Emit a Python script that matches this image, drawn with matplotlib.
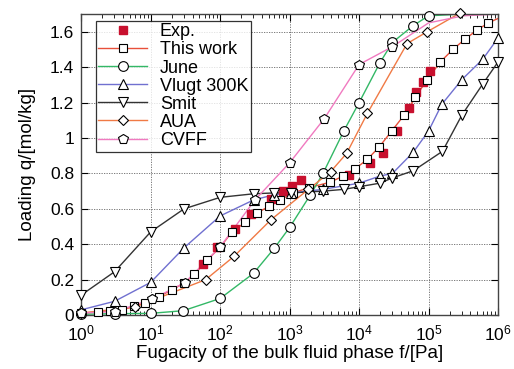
import numpy as np
import matplotlib
matplotlib.use("Agg")
import matplotlib.pyplot as plt
from matplotlib.ticker import FuncFormatter, LogLocator, NullFormatter

plt.rcParams['font.family'] = ['Liberation Sans', 'DejaVu Sans']

# data: log10(f / Pa) and loading q / (mol/kg)
exp_logf = [1.76, 1.96, 2.21, 2.45, 2.73, 2.91, 3.03, 3.16, 3.85, 4.15, 4.34, 4.55, 4.72, 4.82, 4.92, 5.02]
exp_q = [0.29, 0.387, 0.488, 0.57, 0.655, 0.70, 0.727, 0.765, 0.79, 0.857, 0.918, 1.042, 1.17, 1.26, 1.316, 1.38]

work_logf = [0, 0.24, 0.41, 0.59, 0.76, 0.92, 1.12, 1.3, 1.48, 1.63, 1.81, 2.0, 2.17, 2.36, 2.53, 2.71, 2.86,
             3.05, 3.28, 3.58, 3.77, 3.94, 4.12, 4.29, 4.47, 4.65, 4.81, 4.98, 5.17, 5.35, 5.53, 5.7, 5.86]
work_q = [0.01, 0.018, 0.024, 0.03, 0.05, 0.07, 0.105, 0.142, 0.18, 0.23, 0.31, 0.383, 0.47, 0.523, 0.576, 0.616, 0.65,
          0.69, 0.72, 0.75, 0.785, 0.825, 0.88, 0.95, 1.04, 1.13, 1.23, 1.33, 1.43, 1.50, 1.56, 1.61, 1.65]

june_logf = [0, 0.48, 1.0, 1.47, 2.0, 2.48, 2.78, 3.0, 3.3, 3.48, 3.78, 4.0, 4.3, 4.48, 4.78, 5.0]
june_q = [0.005, 0.008, 0.01, 0.025, 0.094, 0.236, 0.378, 0.495, 0.68, 0.80, 1.04, 1.20, 1.425, 1.54, 1.635, 1.69]

vlugt_logf = [0, 0.48, 1.0, 1.48, 2.0, 2.48, 2.78, 3.02, 3.48, 4.0, 4.3, 4.48, 4.78, 5.0, 5.19, 5.48, 5.78, 6.0]
vlugt_q = [0.03, 0.078, 0.185, 0.38, 0.56, 0.65, 0.68, 0.69, 0.71, 0.745, 0.785, 0.80, 0.92, 1.04, 1.19, 1.33, 1.445, 1.565]

smit_logf = [0, 0.48, 1.0, 1.48, 2.0, 2.48, 2.78, 3.02, 3.48, 3.78, 4.0, 4.3, 4.48, 4.78, 5.2, 5.48, 5.78, 6.0]
smit_q = [0.113, 0.245, 0.47, 0.60, 0.665, 0.685, 0.69, 0.69, 0.70, 0.71, 0.725, 0.745, 0.775, 0.815, 0.925, 1.13, 1.305, 1.43]

aua_logf = [0, 0.77, 1.79, 2.2, 2.73, 3.27, 3.59, 3.82, 4.12, 4.69, 4.98, 5.45]
aua_q = [0.012, 0.045, 0.20, 0.332, 0.538, 0.71, 0.81, 0.913, 1.14, 1.533, 1.60, 1.705]

cvff_logf = [0, 0.49, 1.02, 1.49, 2.0, 2.5, 3.0, 3.5, 4.0, 4.48]
cvff_q = [0.012, 0.02, 0.09, 0.183, 0.385, 0.65, 0.86, 1.11, 1.415, 1.516]

# where the fitted lines run past the last marker
line_tails = {
    'This work': ([6.0], [1.675]),
    'June': ([5.5, 6.0], [1.70, 1.70]),
    'AUA': ([6.0], [1.705]),
    'CVFF': ([5.0, 5.5, 6.0], [1.65, 1.69, 1.70]),
}

series = [
    ('This work', work_logf, work_q, 's', '#e8503a'),
    ('June', june_logf, june_q, 'o', '#33b866'),
    ('Vlugt 300K', vlugt_logf, vlugt_q, '^', '#7070d0'),
    ('Smit', smit_logf, smit_q, 'v', '#333333'),
    ('AUA', aua_logf, aua_q, 'D', '#f07a45'),
    ('CVFF', cvff_logf, cvff_q, 'p', '#f07ac0'),
]
marker_size = {'s': 6, 'o': 7, '^': 7, 'v': 7, 'D': 5.5, 'p': 7.5}

fig = plt.figure(figsize=(5.14, 3.69), dpi=100)
ax = fig.add_axes([0.158, 0.146, 0.811, 0.816])

handles = []
h_exp, = ax.plot(10 ** np.array(exp_logf), exp_q, 's', color='#c8102e', ms=5.5, mec='#c8102e',
                 ls='none', zorder=4, label='Exp.')
handles.append(h_exp)

for name, lf, q, mk, col in series:
    lx, ly = list(lf), list(q)
    if name in line_tails:
        lx += line_tails[name][0]
        ly += line_tails[name][1]
    ax.plot(10 ** np.array(lx), ly, '-', color=col, lw=1.0, zorder=2)
    ax.plot(10 ** np.array(lf), q, mk, ms=marker_size[mk], mfc='white', mec='black', mew=0.8,
            ls='none', zorder=5, clip_on=False)
    h, = ax.plot([], [], '-', color=col, lw=1.0, marker=mk, ms=marker_size[mk], mfc='white',
                 mec='black', mew=0.8, label=name)
    handles.append(h)

ax.set_xscale('log')
ax.set_xlim(1, 1e6)
ax.set_ylim(0, 1.7)
ax.set_yticks(np.arange(0, 1.61, 0.2))
ax.yaxis.set_major_formatter(FuncFormatter(lambda v, p: '%g' % round(v, 2)))
ax.xaxis.set_major_locator(LogLocator(base=10, numticks=10))
ax.xaxis.set_minor_locator(LogLocator(base=10, subs=np.arange(2, 10), numticks=20))
ax.xaxis.set_minor_formatter(NullFormatter())

ax.grid(True, which='major', ls=(0, (1.5, 1.5)), color='#666666', lw=0.6)
ax.tick_params(which='both', direction='in', top=True, right=True, labelsize=12.5, colors='black')
ax.tick_params(which='major', length=5)
ax.tick_params(which='minor', length=3)
ax.tick_params(axis='x', pad=6)
ax.tick_params(axis='y', pad=5)
for s in ax.spines.values():
    s.set_linewidth(1.0)
    s.set_color('#444444')

ax.set_xlabel('Fugacity of the bulk fluid phase f/[Pa]', fontsize=13.5, labelpad=1)
ax.set_ylabel('Loading q/[mol/kg]', fontsize=13.5, labelpad=10)

leg = ax.legend(handles=handles, loc='upper left', bbox_to_anchor=(0.026, 0.99), fontsize=13,
                frameon=True, fancybox=False, edgecolor='black', borderpad=0.15, labelspacing=0.06,
                handlelength=2.7, handletextpad=0.7, borderaxespad=0.2)
leg.get_frame().set_linewidth(0.9)
leg.set_zorder(10)

fig.savefig('out.png', dpi=100)
